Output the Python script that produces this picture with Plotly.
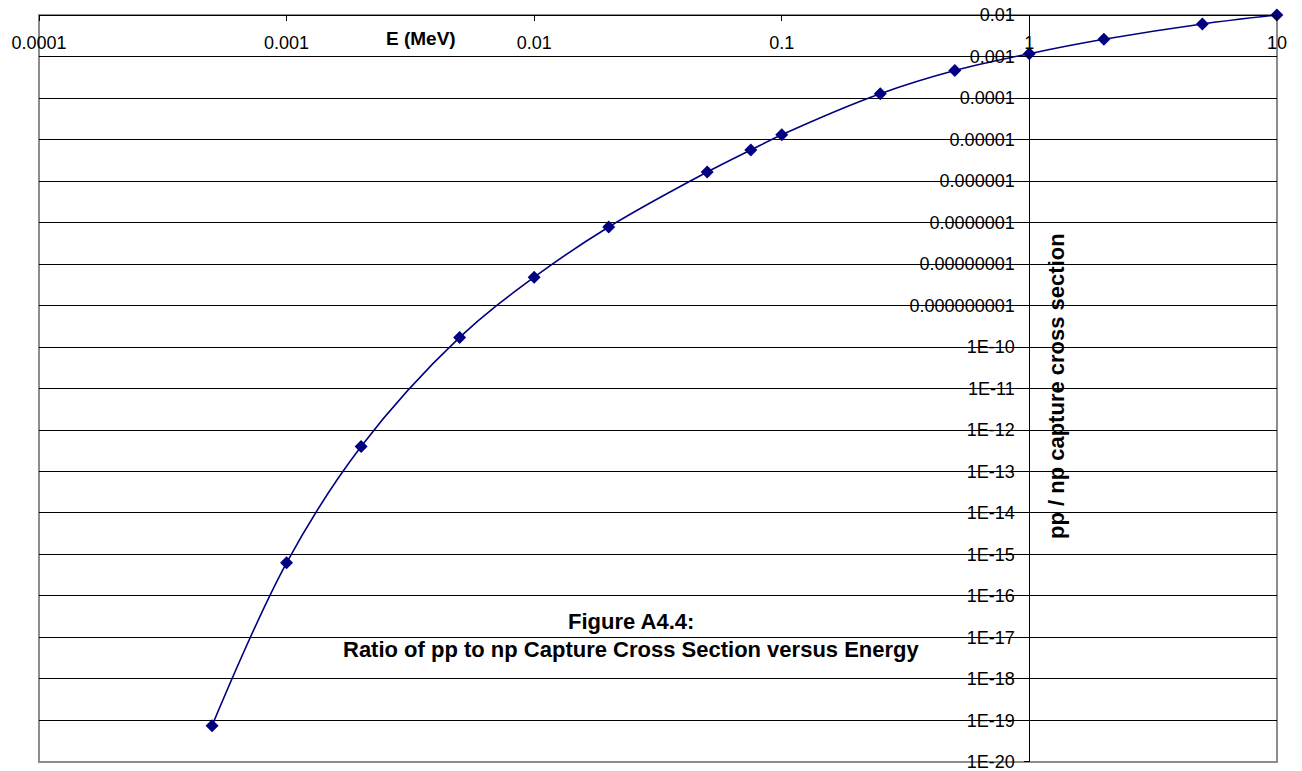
import plotly.graph_objects as go

# ---- data ----
energy_mev = [0.0005, 0.001, 0.002, 0.005, 0.01, 0.02, 0.05, 0.075, 0.1,
              0.25, 0.5, 1, 2, 5, 10]
ratio_pp_np = [7.5e-20, 6.3e-16, 4.0e-13, 1.7e-10, 4.8e-9, 7.8e-8, 1.65e-6,
               5.6e-6, 1.3e-5, 1.27e-4, 4.6e-4, 1.17e-3, 2.6e-3, 6.1e-3, 1.0e-2]

x_tickvals = [0.0001, 0.001, 0.01, 0.1, 1, 10]
x_ticktext = ["0.0001", "0.001", "0.01", "0.1", "1", "10"]

y_tickvals = [float("1e%d" % k) for k in range(-20, -1)]
y_ticktext = ["1E-20", "1E-19", "1E-18", "1E-17", "1E-16", "1E-15", "1E-14",
              "1E-13", "1E-12", "1E-11", "1E-10", "0.000000001", "0.00000001",
              "0.0000001", "0.000001", "0.00001", "0.0001", "0.001", "0.01"]

FONT = "Liberation Sans, Arial, sans-serif"
NAVY = "#000080"

fig = go.Figure()
fig.add_trace(go.Scatter(
    x=energy_mev, y=ratio_pp_np, mode="lines+markers",
    line=dict(color=NAVY, width=1.6, shape="spline", smoothing=1.0),
    marker=dict(symbol="diamond", size=10, color=NAVY),
    cliponaxis=False, showlegend=False,
))

fig.update_layout(
    width=1302, height=771,
    margin=dict(l=39, r=25, t=15, b=9, autoexpand=False),
    paper_bgcolor="white", plot_bgcolor="white",
    font=dict(family=FONT, size=18, color="black"),
    xaxis=dict(
        type="log", range=[-4, 1.0004], domain=[0, 1],
        anchor="free", position=1.0, side="bottom",
        tickvals=x_tickvals, ticktext=x_ticktext,
        ticks="outside", ticklen=5, tickcolor="black", tickwidth=1,
        showline=True, linecolor="black", linewidth=1.2,
        showgrid=False, zeroline=False, automargin=False,
        tickfont=dict(family=FONT, size=18, color="black"),
        ticklabelstandoff=6, ticklabeloverflow="allow",
    ),
    yaxis=dict(
        type="log", range=[-20.0005, -1.9996], domain=[0, 1],
        anchor="free", position=0.8, side="left",
        tickvals=y_tickvals, ticktext=y_ticktext,
        ticks="outside", ticklen=5, tickcolor="black", tickwidth=1,
        showline=True, linecolor="black", linewidth=1.2,
        showgrid=True, gridcolor="black", gridwidth=1,
        zeroline=False, automargin=False,
        tickfont=dict(family=FONT, size=18, color="black"),
        ticklabelstandoff=6, ticklabeloverflow="allow",
    ),
    shapes=[dict(type="rect", xref="paper", yref="paper", x0=0, x1=1, y0=0, y1=1,
                 line=dict(color="#8c8c8c", width=2), layer="below")],
    annotations=[
        dict(text="<b>E (MeV)</b>", xref="paper", yref="paper",
             x=(421 - 39) / 1238, y=(762 - 38) / 747, showarrow=False,
             xanchor="center", yanchor="middle",
             font=dict(family=FONT, size=19, color="black")),
        dict(text="<b>pp / np capture cross section</b>", xref="paper", yref="paper",
             x=(1057 - 39) / 1238, y=(762 - 386) / 747, showarrow=False,
             textangle=-90, xanchor="center", yanchor="middle",
             font=dict(family=FONT, size=22, color="black")),
        dict(text="<b>Figure A4.4:</b>", xref="paper", yref="paper",
             x=(631 - 39) / 1238, y=(762 - 621) / 747, showarrow=False,
             xanchor="center", yanchor="middle",
             font=dict(family=FONT, size=22, color="black")),
        dict(text="<b>Ratio of pp to np Capture Cross Section versus Energy</b>",
             xref="paper", yref="paper",
             x=(631 - 39) / 1238, y=(762 - 649) / 747, showarrow=False,
             xanchor="center", yanchor="middle",
             font=dict(family=FONT, size=22, color="black")),
    ],
)

fig.write_html(
    "out.html",
    config={"displayModeBar": False},
    post_script="document.body.style.margin='0';document.body.style.overflow='hidden';",
)
